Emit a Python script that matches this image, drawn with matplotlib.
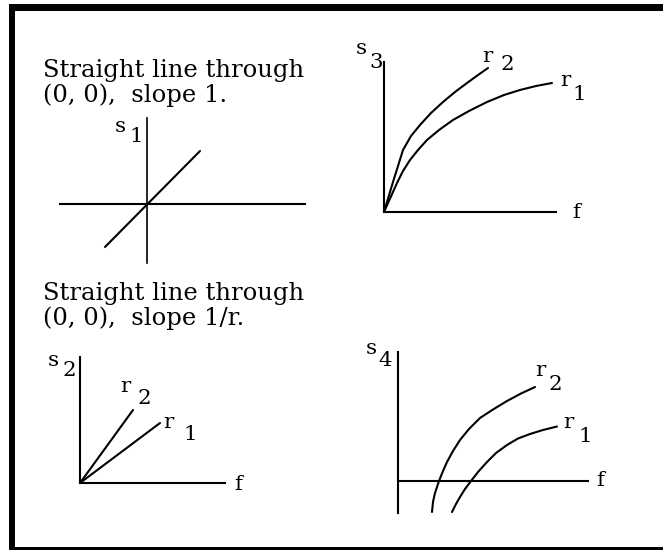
import matplotlib
matplotlib.use("Agg")
import matplotlib.pyplot as plt
from matplotlib.patches import Rectangle

W, H = 663, 550
FONT = "DejaVu Serif"

# ---- data (arbitrary units, origin at 0,0) ----
# panel s1: straight line through (0,0), slope 1
s1_f = [-42, 53]
s1_s = [-43, 53]
# panel s2: straight lines through (0,0), slope 1/r
s2_r2_f = [0, 53]
s2_r2_s = [0, 73]
s2_r1_f = [0, 80]
s2_r1_s = [0, 60]
# panel s3: concave curves from origin
s3_r2_f = [0, 9, 19, 27, 36, 47, 59, 71, 83, 94, 104]
s3_r2_s = [0, 30, 62, 76, 87, 99, 110, 120, 129, 137, 144]
s3_r1_f = [0, 13, 19, 26, 34, 43, 55, 69, 85, 103, 120, 136, 152, 168]
s3_r1_s = [0, 29, 41, 52, 62, 72, 82, 92, 101, 110, 117, 122, 126, 129]
# panel s4: curves crossing the f axis
s4_r2_f = [34, 35, 37, 41, 45, 49, 55, 62, 71, 82, 95, 109, 123, 137]
s4_r2_s = [-31, -21, -12, 0, 10, 19, 30, 41, 52, 63, 71.5, 80, 87.5, 94]
s4_r1_f = [54, 58, 62, 67, 73, 80, 89, 98, 109, 120, 132, 145, 159]
s4_r1_s = [-31, -23, -16, -8, 0, 9, 19, 28, 36, 42.5, 47, 51, 54.5]

caption_top = ["Straight line through", "(0, 0),  slope 1."]
caption_bottom = ["Straight line through", "(0, 0),  slope 1/r."]

fig = plt.figure(figsize=(W / 100, H / 100), dpi=100)
fig.patch.set_facecolor("white")

# background axes in pixel units for frame and captions
bg = fig.add_axes([0, 0, 1, 1])
bg.set_xlim(0, W)
bg.set_ylim(H, 0)
bg.axis("off")
bg.add_patch(Rectangle((9, 4), W - 9, 7, color="black", lw=0))
bg.add_patch(Rectangle((9, 4), 6, H - 4, color="black", lw=0))
bg.add_patch(Rectangle((9, 547), W - 9, 4, color="black", lw=0))

# captions, fitted to the width of the reference line
renderer = fig.canvas.get_renderer()
probe = bg.text(0, 0, caption_top[0], fontsize=10, family=FONT)
wpx = probe.get_window_extent(renderer).width
probe.remove()
fs = 10 * 262 / wpx

for (y1, y2), lines in (((77, 102), caption_top), ((300, 325), caption_bottom)):
    bg.text(43, y1, lines[0], fontsize=fs, family=FONT, va="baseline", ha="left")
    bg.text(43, y2, lines[1], fontsize=fs, family=FONT, va="baseline", ha="left")

L, R, B, T = 100, 230, 80, 180
LW = 1.5
lab_fs = fs * 0.88


def panel(ox, oy):
    ax = fig.add_axes([(ox - L) / W, 1 - (oy + B) / H, (L + R) / W, (T + B) / H])
    ax.set_xlim(-L, R)
    ax.set_ylim(-B, T)
    ax.axis("off")
    return ax


def lab(ax, x, y, s, size=None, **kw):
    ax.text(x, y, s, fontsize=size or lab_fs, family=FONT, ha="center", va="center", **kw)


def curve(ax, xs, ys):
    ax.plot(xs, ys, color="black", lw=LW, solid_joinstyle="round", solid_capstyle="round")


# ---- panel s1 ----
a1 = panel(147, 204)
a1.plot([-87, 158], [0, 0], color="black", lw=LW)
a1.plot([0, 0], [-59, 86], color="black", lw=LW * 0.8)
curve(a1, s1_f, s1_s)
lab(a1, -27, 78, "s")
lab(a1, -11, 67, "1")

# ---- panel s3 ----
a3 = panel(384, 212)
a3.plot([0, 172], [0, 0], color="black", lw=LW)
a3.plot([0, 0], [0, 150], color="black", lw=LW)
curve(a3, s3_r2_f, s3_r2_s)
curve(a3, s3_r1_f, s3_r1_s)
lab(a3, -23, 163, "s")
lab(a3, -8, 150, "3")
lab(a3, 103, 155, "r")
lab(a3, 123, 148, "2")
lab(a3, 181, 131, "r")
lab(a3, 195, 118, "1")
lab(a3, 192, 0, "f")

# ---- panel s2 ----
a2 = panel(80, 483)
a2.plot([0, 145], [0, 0], color="black", lw=LW)
a2.plot([0, 0], [0, 126], color="black", lw=LW)
curve(a2, s2_r2_f, s2_r2_s)
curve(a2, s2_r1_f, s2_r1_s)
lab(a2, -27, 122, "s")
lab(a2, -11, 112, "2")
lab(a2, 45, 97, "r")
lab(a2, 64, 85, "2")
lab(a2, 88, 61, "r")
lab(a2, 110, 48, "1")
lab(a2, 158, -1, "f")

# ---- panel s4 ----
a4 = panel(398, 481)
a4.plot([0, 190], [0, 0], color="black", lw=LW)
a4.plot([0, 0], [-32, 129], color="black", lw=LW)
curve(a4, s4_r2_f, s4_r2_s)
curve(a4, s4_r1_f, s4_r1_s)
lab(a4, -27, 133, "s")
lab(a4, -13, 121, "4")
lab(a4, 142, 110, "r")
lab(a4, 157, 96, "2")
lab(a4, 170, 58, "r")
lab(a4, 187, 45, "1")
lab(a4, 202, 1, "f")

fig.savefig("out.png", dpi=100, facecolor="white")
